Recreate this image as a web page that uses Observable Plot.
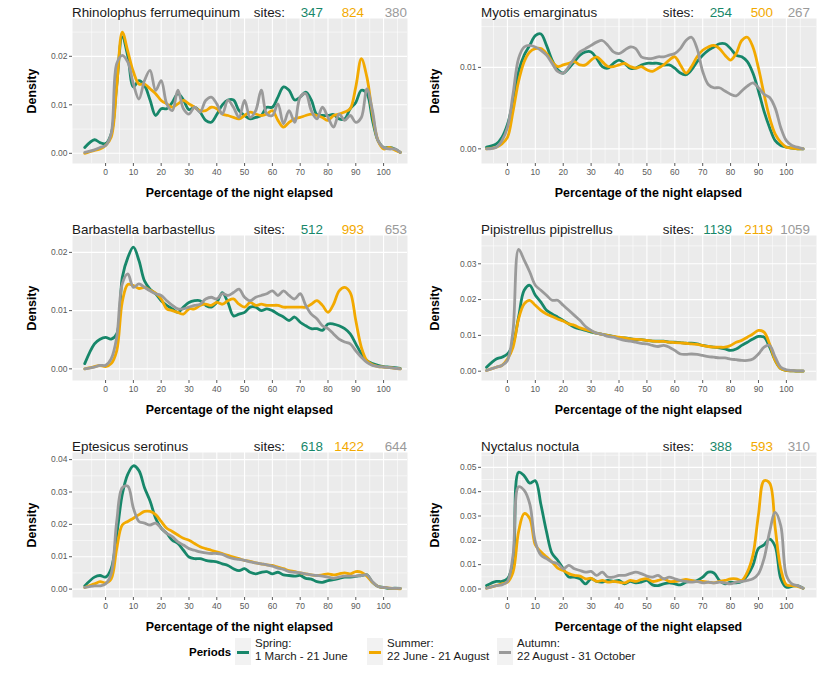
<!DOCTYPE html>
<html>
<head>
<meta charset="utf-8">
<script src="https://cdn.jsdelivr.net/npm/d3@7"></script>
<script src="https://cdn.jsdelivr.net/npm/@observablehq/plot@0.6"></script>
<style>
  body { margin: 0; background: #ffffff; font-family: "Liberation Sans", Arial, sans-serif; }
  #root { position: relative; width: 826px; height: 675px; overflow: hidden; }
  .panel { position: absolute; }
  .ttl { position: absolute; font-size: 13.4px; line-height: 13px; color: #1a1a1a; white-space: nowrap; }
  .ra { transform: translateX(-100%); }
  .xlab { position: absolute; font-size: 12.4px; font-weight: bold; color: #000; white-space: nowrap; transform: translate(-50%, -50%); }
  .ylab { position: absolute; font-size: 12.4px; font-weight: bold; color: #000; white-space: nowrap; transform: translate(-50%, -50%) rotate(-90deg); }
  .leg { position: absolute; font-size: 11.5px; line-height: 13px; color: #1a1a1a; white-space: nowrap; }
  .legtitle { position: absolute; font-size: 11.5px; font-weight: bold; color: #000; white-space: nowrap; }
  .key { position: absolute; width: 16px; height: 27px; background: #f2f2f2; }
  .key i { position: absolute; left: 2px; right: 2px; top: 13px; height: 3px; }
</style>
</head>
<body>
<div id="root"></div>
<script>
// ---------------- data ----------------
const periods = ["Spring", "Summer", "Autumn"];
const periodLine1 = ["Spring:", "Summer:", "Autumn:"];
const periodLine2 = ["1 March - 21 June", "22 June - 21 August", "22 August - 31 October"];
const periodColors = ["#17876a", "#f2a900", "#9a9a9a"];

const speciesNames = ["Rhinolophus ferrumequinum", "Myotis emarginatus", "Barbastella barbastellus",
  "Pipistrellus pipistrellus", "Eptesicus serotinus", "Nyctalus noctula"];
const sitesSpring = [347, 254, 512, 1139, 618, 388];
const sitesSummer = [824, 500, 993, 2119, 1422, 593];
const sitesAutumn = [380, 267, 653, 1059, 644, 310];

const xTicks = [0, 10, 20, 30, 40, 50, 60, 70, 80, 90, 100];
const xMinor = [-5, 5, 15, 25, 35, 45, 55, 65, 75, 85, 95, 105];
const yTicks1 = [0, 0.01, 0.02];
const yTicks2 = [0, 0.01];
const yTicks3 = [0, 0.01, 0.02];
const yTicks4 = [0, 0.01, 0.02, 0.03];
const yTicks5 = [0, 0.01, 0.02, 0.03, 0.04];
const yTicks6 = [0, 0.01, 0.02, 0.03, 0.04, 0.05];

// percentage of the night elapsed (sample positions of the density curves)
const xs = [-7.5, -4, -2, 0, 2, 4, 6, 8, 10, 12, 14, 16, 18, 20, 22, 24, 26, 28, 30, 32, 34, 36, 38, 40,
  42, 44, 46, 48, 50, 52, 54, 56, 58, 60, 62, 64, 66, 68, 70, 72, 74, 76, 78, 80, 82, 84, 86, 88, 90, 92,
  94, 96, 98, 100, 102, 104, 106];

// Rhinolophus ferrumequinum
const rhiSpring = [0.0012,0.0028,0.0022,0.002,0.004,0.014,0.024,0.020,0.0137,0.015,
  0.014,0.011,0.0078,0.0092,0.0092,0.0105,0.0123,0.011,0.009,0.0095,
  0.0085,0.0068,0.0064,0.008,0.010,0.011,0.011,0.0088,0.0078,0.0071,
  0.0074,0.0078,0.0095,0.0095,0.0116,0.0137,0.013,0.011,0.0116,0.0126,
  0.011,0.008,0.0078,0.0078,0.008,0.0071,0.0071,0.0092,0.0105,0.013,
  0.0123,0.0068,0.0026,0.0012,0.0012,0.0009,0.0002];
const rhiSummer = [0,0.0006,0.0009,0.0016,0.0033,0.0137,0.025,0.021,0.0168,0.0143,
  0.0143,0.0133,0.0123,0.0109,0.0102,0.0095,0.0102,0.0109,0.0102,0.0095,
  0.0088,0.0088,0.0095,0.0092,0.0081,0.0078,0.0074,0.0071,0.0078,0.0085,
  0.0081,0.0078,0.0081,0.0088,0.0068,0.0054,0.0064,0.0071,0.0074,0.0078,
  0.0081,0.0078,0.0074,0.0068,0.0078,0.0081,0.0085,0.0092,0.0137,0.0195,
  0.0157,0.0081,0.0026,0.0009,0.0012,0.0007,0.0002];
const rhiAutumn = [0.0002,0.0007,0.0012,0.0016,0.004,0.0185,0.0202,0.0188,0.0143,0.0112,
  0.015,0.0171,0.013,0.015,0.0102,0.0088,0.013,0.0092,0.0081,0.0095,
  0.0085,0.0109,0.0116,0.0102,0.0081,0.0109,0.0095,0.0074,0.0109,0.0074,
  0.0088,0.013,0.0081,0.0078,0.0102,0.0061,0.0088,0.0064,0.0116,0.0123,
  0.0088,0.0071,0.0095,0.0074,0.0054,0.0081,0.0068,0.0078,0.0064,0.0074,
  0.0133,0.0088,0.0026,0.0012,0.0009,0.0009,0.0002];

// Myotis emarginatus
const myoSpring = [0.0002,0.0006,0.0014,0.003,0.0058,0.0095,0.0115,0.0127,0.0139,0.0141,
  0.0127,0.0109,0.0097,0.0093,0.0099,0.0107,0.0115,0.0119,0.0119,0.0111,
  0.0101,0.0099,0.0105,0.0109,0.0105,0.0099,0.0099,0.0103,0.0105,0.0105,
  0.0105,0.0103,0.0103,0.0099,0.0093,0.0091,0.0097,0.0107,0.0115,0.0121,
  0.0125,0.0129,0.0129,0.0123,0.0115,0.0113,0.0107,0.0093,0.0071,0.0046,
  0.0026,0.001,0.0004,0.0002,0.0001,0,0];
const myoSummer = [0,0.0002,0.0006,0.0014,0.0046,0.0083,0.0107,0.0119,0.0123,0.0123,
  0.0117,0.0107,0.0101,0.0103,0.0105,0.0107,0.0103,0.0103,0.0109,0.0113,
  0.0107,0.0101,0.0101,0.0103,0.0105,0.0101,0.0099,0.0101,0.0097,0.0095,
  0.0099,0.0103,0.0109,0.0113,0.0103,0.0093,0.0101,0.0113,0.0121,0.0125,
  0.0127,0.0123,0.0115,0.0109,0.0117,0.0133,0.0137,0.0125,0.0099,0.0067,
  0.0038,0.0018,0.0008,0.0002,0.0001,0,0];
const myoAutumn = [0,0.0002,0.001,0.0026,0.0067,0.0111,0.0125,0.0127,0.0125,0.0121,
  0.0115,0.0105,0.0095,0.0093,0.0101,0.0111,0.0119,0.0123,0.0127,0.0131,
  0.0133,0.0127,0.0119,0.0117,0.0121,0.0125,0.0123,0.0113,0.0111,0.0111,
  0.0113,0.0113,0.0115,0.0117,0.0123,0.0133,0.0137,0.0123,0.0095,0.0079,
  0.0075,0.0075,0.0071,0.0067,0.0065,0.0071,0.0077,0.0081,0.0075,0.0067,
  0.0063,0.005,0.0026,0.001,0.0004,0.0002,0];

// Barbastella barbastellus
const barSpring = [0.0009,0.0043,0.0051,0.0054,0.0051,0.006,0.0157,0.0191,0.0209,0.0186,
  0.0151,0.0137,0.0129,0.0117,0.0109,0.0103,0.0097,0.0106,0.0114,0.0117,
  0.0117,0.0109,0.0106,0.0114,0.0131,0.0114,0.0091,0.0094,0.0097,0.0106,
  0.0106,0.01,0.0103,0.01,0.0094,0.0089,0.0083,0.0089,0.008,0.0074,
  0.0069,0.0069,0.0066,0.0077,0.0077,0.0074,0.0069,0.006,0.0043,0.0026,
  0.0014,0.0009,0.0006,0.0004,0.0003,0.0002,0.0001];
const barSummer = [0,0.0004,0.0006,0.0004,0.0009,0.0031,0.0115,0.0145,0.0143,0.0138,
  0.014,0.0135,0.013,0.012,0.0103,0.01,0.0097,0.0094,0.0103,0.0103,
  0.0109,0.0111,0.0109,0.0114,0.0111,0.0117,0.012,0.0111,0.0106,0.0114,
  0.0109,0.0111,0.0109,0.0109,0.0109,0.0106,0.0106,0.0106,0.0106,0.0106,
  0.0111,0.0117,0.0109,0.0097,0.0111,0.0134,0.014,0.0131,0.0083,0.0037,
  0.0014,0.0007,0.0004,0.0003,0.0002,0.0001,0];
const barAutumn = [0,0.0003,0.0006,0.0006,0.0017,0.0054,0.0146,0.0163,0.014,0.0146,
  0.014,0.0134,0.0129,0.0126,0.0117,0.0109,0.0103,0.0103,0.0106,0.0109,
  0.0111,0.012,0.0123,0.012,0.0129,0.0126,0.0131,0.0137,0.0123,0.0117,
  0.0123,0.0126,0.0129,0.0134,0.0126,0.0134,0.0126,0.012,0.0129,0.0109,
  0.0094,0.0086,0.0074,0.0069,0.006,0.0051,0.0046,0.0043,0.0031,0.002,
  0.0011,0.0006,0.0004,0.0003,0.0002,0.0001,0];

// Pipistrellus pipistrellus
const pipSpring = [0.0011,0.0034,0.0039,0.0048,0.0076,0.0151,0.0226,0.024,0.0212,0.0193,
  0.017,0.016,0.0151,0.0142,0.0132,0.0123,0.0118,0.0114,0.0109,0.0106,
  0.0103,0.01,0.0097,0.0093,0.0093,0.0091,0.0088,0.0088,0.0086,0.0084,
  0.0084,0.0084,0.0081,0.0081,0.008,0.0078,0.0078,0.0076,0.0072,0.0069,
  0.0067,0.0065,0.0062,0.0058,0.0062,0.0072,0.0081,0.009,0.0097,0.0095,
  0.0067,0.003,0.0007,0.0002,0.0001,0,0];
const pipSummer = [0.0002,0.0011,0.0016,0.0034,0.0067,0.0146,0.0188,0.0198,0.0184,0.017,
  0.016,0.0153,0.0146,0.014,0.0132,0.0128,0.0121,0.0116,0.0112,0.0106,
  0.0103,0.01,0.0097,0.0095,0.0093,0.009,0.0089,0.0088,0.0086,0.0084,
  0.0083,0.0083,0.0081,0.008,0.0079,0.0078,0.0076,0.0075,0.0072,0.0069,
  0.0067,0.0067,0.0067,0.0072,0.0081,0.0086,0.0095,0.0104,0.0114,0.0109,
  0.0076,0.003,0.0007,0.0002,0.0001,0,0];
const pipAutumn = [0.0002,0.0011,0.0016,0.003,0.0114,0.034,0.031,0.0277,0.024,0.0226,
  0.0212,0.0198,0.0198,0.0184,0.017,0.0156,0.0142,0.0125,0.0114,0.0106,
  0.0103,0.0097,0.0095,0.009,0.0086,0.0084,0.0081,0.0078,0.0076,0.0072,
  0.0069,0.0072,0.0067,0.0058,0.0048,0.0047,0.0048,0.0047,0.0044,0.0041,
  0.0039,0.0037,0.0037,0.0034,0.0032,0.003,0.003,0.0034,0.0048,0.0067,
  0.0072,0.0039,0.0011,0.0004,0.0002,0.0001,0.0001];

// Eptesicus serotinus
const eptSpring = [0.001,0.0037,0.0042,0.0037,0.0063,0.0167,0.0292,0.0355,0.0381,0.0366,
  0.0313,0.0272,0.0219,0.0188,0.0172,0.0151,0.0141,0.012,0.0099,0.0094,
  0.0094,0.0089,0.0086,0.0084,0.0078,0.0073,0.0063,0.0057,0.0063,0.0052,
  0.0047,0.0052,0.0054,0.0047,0.0052,0.0044,0.0042,0.004,0.0042,0.0033,
  0.0031,0.0023,0.0021,0.0026,0.0029,0.0033,0.0037,0.0037,0.0039,0.0042,
  0.0044,0.0021,0.0008,0.0005,0.0002,0.0003,0.0002];
const eptSummer = [0.0005,0.0016,0.0023,0.0019,0.0031,0.0125,0.0198,0.0209,0.0219,0.023,
  0.024,0.024,0.023,0.0209,0.0188,0.0178,0.0167,0.0157,0.0151,0.0141,
  0.0131,0.0125,0.012,0.0115,0.011,0.0104,0.0099,0.0094,0.0089,0.0086,
  0.0081,0.0078,0.0075,0.0073,0.0068,0.0063,0.0057,0.0054,0.005,0.0047,
  0.0044,0.0042,0.0044,0.0047,0.0044,0.0047,0.005,0.0047,0.0054,0.0052,
  0.004,0.0021,0.0008,0.0005,0.0003,0.0002,0.0001];
const eptAutumn = [0.0005,0.001,0.001,0.0016,0.0047,0.0209,0.0313,0.0318,0.025,0.0209,
  0.0204,0.0198,0.0204,0.0188,0.0172,0.0162,0.0146,0.0136,0.0125,0.012,
  0.0115,0.0112,0.011,0.011,0.0107,0.0099,0.0094,0.0092,0.0089,0.0084,
  0.0081,0.0078,0.0075,0.0071,0.0065,0.0061,0.0054,0.0052,0.005,0.0047,
  0.0044,0.0042,0.004,0.0037,0.0033,0.0037,0.004,0.004,0.004,0.0042,
  0.0044,0.0023,0.0008,0.0005,0.0003,0.0002,0.0002];

// Nyctalus noctula
const nycSpring = [0.0014,0.0031,0.0031,0.0042,0.0111,0.048,0.0465,0.0435,0.0445,0.0347,
  0.0236,0.0146,0.0118,0.0083,0.0049,0.0049,0.0042,0.0021,0.0042,0.0031,
  0.0028,0.0035,0.0031,0.0035,0.0021,0.0031,0.0025,0.0028,0.0035,0.0017,
  0.0014,0.0021,0.0025,0.0021,0.0017,0.0028,0.0031,0.0035,0.0049,0.0069,
  0.0066,0.0035,0.0021,0.0028,0.0025,0.0031,0.0056,0.0097,0.0167,0.0181,
  0.0205,0.0175,0.0042,0.0007,0.0011,0.0014,0.0003];
const nycSummer = [0.0003,0.0014,0.0021,0.0028,0.0069,0.0236,0.031,0.029,0.0181,0.0153,
  0.0132,0.0111,0.0086,0.0076,0.0063,0.0056,0.0053,0.0042,0.0044,0.0031,
  0.0035,0.0028,0.0031,0.0028,0.0025,0.0035,0.0031,0.0039,0.0042,0.0031,
  0.0035,0.0042,0.0031,0.0031,0.0035,0.0039,0.0035,0.0031,0.0031,0.0028,
  0.0025,0.0031,0.0035,0.0042,0.0042,0.0035,0.0069,0.0139,0.0306,0.0445,
  0.0435,0.025,0.0083,0.0017,0.0014,0.0011,0.0003];
const nycAutumn = [0.0003,0.0014,0.0017,0.0031,0.0139,0.042,0.0405,0.035,0.0194,0.0139,
  0.0125,0.0111,0.0104,0.0083,0.0097,0.0083,0.0076,0.0069,0.0072,0.0056,
  0.0069,0.0049,0.0049,0.0056,0.0056,0.0063,0.0069,0.0063,0.0053,0.0049,
  0.0056,0.0042,0.0049,0.0042,0.0035,0.0031,0.0028,0.0031,0.0025,0.0028,
  0.0025,0.0028,0.0025,0.0021,0.0028,0.0031,0.0035,0.0042,0.0063,0.0125,
  0.0236,0.0315,0.026,0.0056,0.0021,0.0014,0.0003];

// ---------------- layout / scale settings ----------------
const seriesByPanel = [
  [rhiSpring, rhiSummer, rhiAutumn],
  [myoSpring, myoSummer, myoAutumn],
  [barSpring, barSummer, barAutumn],
  [pipSpring, pipSummer, pipAutumn],
  [eptSpring, eptSummer, eptAutumn],
  [nycSpring, nycSummer, nycAutumn]
];
const yTicksByPanel = [yTicks1, yTicks2, yTicks3, yTicks4, yTicks5, yTicks6];
const yDomains = [[-0.0021, 0.0278], [-0.0018, 0.016], [-0.002, 0.0229],
  [-0.0026, 0.0379], [-0.0026, 0.0422], [-0.0035, 0.0561]];
const xDomains = [[-11.9, 108.6], [-9.3, 110.8]];
const colLeft = [0, 413];
const colMarginLeft = [72, 68];
const colMarginRight = [6, 10];
const colYLabel = [32, 22];
const rowTop = [0, 217, 434];
const MT = 18, PH = 145, MB = 40, W = 413;

const root = document.getElementById("root");
function addDiv(cls, html, left, top, extra) {
  const d = document.createElement("div");
  d.className = cls;
  d.innerHTML = html;
  d.style.left = left + "px";
  d.style.top = top + "px";
  if (extra) Object.assign(d.style, extra);
  root.appendChild(d);
  return d;
}

const fmtY = d3.format(".2f");

for (let i = 0; i < 6; i++) {
  const col = i % 2, row = Math.floor(i / 2);
  const ticks = yTicksByPanel[i];
  const step = ticks[1] - ticks[0];
  const yMinor = ticks.map(t => t + step / 2).filter(v => v < yDomains[i][1]);
  const data = [];
  seriesByPanel[i].forEach((vals, s) => vals.forEach((v, k) => data.push({x: xs[k], y: v, period: periods[s]})));

  const chart = Plot.plot({
    width: W, height: MT + PH + MB,
    marginLeft: colMarginLeft[col], marginRight: colMarginRight[col],
    marginTop: MT, marginBottom: MB,
    x: {domain: xDomains[col]},
    y: {domain: yDomains[i]},
    color: {domain: periods, range: periodColors},
    style: {fontFamily: "'Liberation Sans', Arial, sans-serif", fontSize: "8.5px", color: "#5a5a5a", background: "transparent"},
    marks: [
      Plot.frame({fill: "#ebebeb", stroke: "none"}),
      Plot.ruleX(xMinor, {stroke: "#ffffff", strokeWidth: 0.55}),
      Plot.ruleY(yMinor, {stroke: "#ffffff", strokeWidth: 0.55}),
      Plot.ruleX(xTicks, {stroke: "#ffffff", strokeWidth: 1.1}),
      Plot.ruleY(ticks, {stroke: "#ffffff", strokeWidth: 1.1}),
      Plot.axisX({ticks: xTicks, tickSize: 3, tickPadding: 2, label: null, tickFormat: d => String(d)}),
      Plot.axisY({ticks: ticks, tickSize: 3, tickPadding: 2, label: null, tickFormat: fmtY}),
      Plot.line(data, {x: "x", y: "y", z: "period", stroke: "period", strokeWidth: 2.8,
        curve: "catmull-rom", strokeLinejoin: "round", strokeLinecap: "round"})
    ]
  });
  const wrap = document.createElement("div");
  wrap.className = "panel";
  wrap.style.left = colLeft[col] + "px";
  wrap.style.top = rowTop[row] + "px";
  wrap.appendChild(chart);
  root.appendChild(wrap);

  const pLeft = colLeft[col] + colMarginLeft[col];
  const pRight = colLeft[col] + W - colMarginRight[col];
  const tTop = rowTop[row] + 6;
  addDiv("ttl", speciesNames[i], pLeft, tTop);
  addDiv("ttl ra", "sites:", pLeft + 213, tTop);
  const nums = [sitesSpring[i], sitesSummer[i], sitesAutumn[i]];
  const numRight = [251, 292, col === 0 ? 335 : 329];
  nums.forEach((n, s) => addDiv("ttl ra", String(n), pLeft + numRight[s], tTop, {color: periodColors[s]}));

  addDiv("xlab", "Percentage of the night elapsed", (pLeft + pRight) / 2, rowTop[row] + MT + PH + 30);
  addDiv("ylab", "Density", colLeft[col] + colYLabel[col], rowTop[row] + MT + PH / 2);
}

// ---------------- legend ----------------
addDiv("legtitle", "Periods", 189, 646);
const keyLeft = [235, 367, 497];
periods.forEach((p, s) => {
  const k = addDiv("key", "<i></i>", keyLeft[s], 638);
  k.firstChild.style.background = periodColors[s];
  addDiv("leg", periodLine1[s] + "<br>" + periodLine2[s], keyLeft[s] + 20, 637);
});
</script>
</body>
</html>
